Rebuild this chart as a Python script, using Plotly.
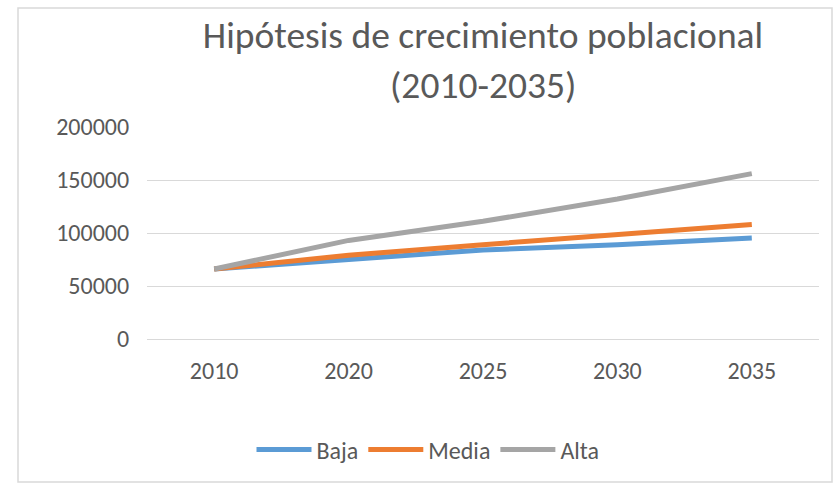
import plotly.graph_objects as go

years = ["2010", "2020", "2025", "2030", "2035"]
baja = [66000, 75500, 84000, 89000, 95300]
media = [66000, 79000, 89000, 98000, 108000]
alta = [66000, 93000, 111000, 132000, 156000]

series = [("Baja", baja, "#5B9BD5"), ("Media", media, "#ED7D31"), ("Alta", alta, "#A5A5A5")]

FONT = "Calibri, Carlito, 'Open Sans', sans-serif"
GREY = "#595959"

fig = go.Figure()
for name, vals, col in series:
    fig.add_trace(go.Scatter(x=years, y=vals, name=name, mode="lines",
                             line=dict(color=col, width=5)))

W, H = 836, 485
L, R, T, B = 147, 17, 127, 146
pw, ph = W - L - R, H - T - B

def px_x(x):
    return (x - L) / pw

def px_y(y):
    return (H - B - y) / ph

fig.update_layout(
    width=W, height=H,
    margin=dict(l=L, r=R, t=T, b=B),
    paper_bgcolor="white", plot_bgcolor="white",
    font=dict(family=FONT, color=GREY, size=24),
    title=dict(text="Hipótesis de crecimiento poblacional",
               x=0.5, xref="paper", xanchor="center",
               y=1 - 35 / H, yref="container", yanchor="middle",
               font=dict(family=FONT, size=37.5, color=GREY)),
    annotations=[dict(text="(2010-2035)", xref="paper", yref="paper",
                      x=0.5, y=px_y(85), xanchor="center", yanchor="middle",
                      showarrow=False, font=dict(family=FONT, size=37.5, color=GREY))],
    showlegend=True,
    legend=dict(orientation="h", x=px_x(428), xanchor="center",
                y=px_y(450), yanchor="middle", itemwidth=55,
                font=dict(family=FONT, size=24, color=GREY),
                bgcolor="rgba(0,0,0,0)"),
    xaxis=dict(type="category", range=[-0.5, 4.5], showgrid=False,
               showline=False, zeroline=False,
               ticks="outside", ticklen=10, tickcolor="rgba(0,0,0,0)",
               tickfont=dict(family=FONT, size=24, color=GREY)),
    yaxis=dict(range=[0, 200000], tickvals=[0, 50000, 100000, 150000, 200000],
               ticktext=["0", "50000", "100000", "150000", "200000"],
               showgrid=True, gridcolor="#D9D9D9", gridwidth=1,
               zeroline=True, zerolinecolor="#D9D9D9", zerolinewidth=1,
               showline=False,
               ticks="outside", ticklen=12, tickcolor="rgba(0,0,0,0)",
               tickfont=dict(family=FONT, size=24, color=GREY)),
    shapes=[dict(type="rect", xref="paper", yref="paper",
                 x0=px_x(18), x1=px_x(832), y0=px_y(482), y1=px_y(8),
                 line=dict(color="#D9D9D9", width=1.5), layer="below")],
)

fig.write_html("out.html", config={"displayModeBar": False},
               post_script="document.body.style.margin='0';")
